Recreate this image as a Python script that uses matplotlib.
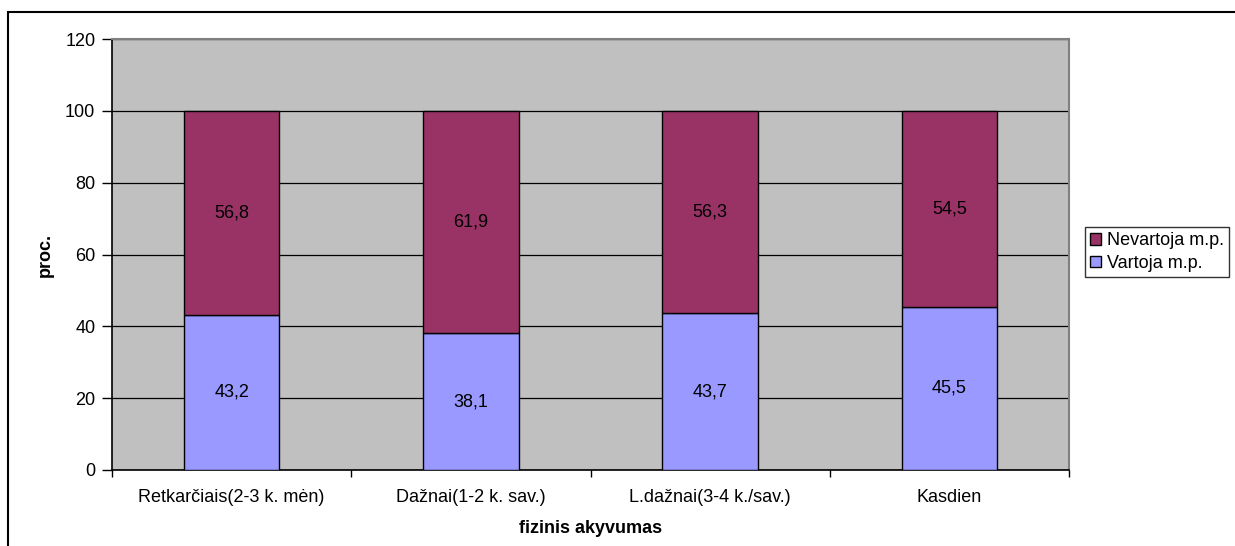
import matplotlib
matplotlib.use("Agg")
import matplotlib.pyplot as plt
from matplotlib.patches import Rectangle, Patch
import numpy as np

plt.rcParams['font.family'] = ['Liberation Sans', 'DejaVu Sans']

categories = ["Retkarčiais(2-3 k. mėn)", "Dažnai(1-2 k. sav.)",
              "L.dažnai(3-4 k./sav.)", "Kasdien"]
vartoja = [43.2, 38.1, 43.7, 45.5]
nevartoja = [56.8, 61.9, 56.3, 54.5]
series_names = ["Nevartoja m.p.", "Vartoja m.p."]
y_ticks = [0, 20, 40, 60, 80, 100, 120]

W, H = 1235, 546
FS = 13
fig = plt.figure(figsize=(W / 100, H / 100), dpi=100)

# plot area in pixels
left, right, top, bottom = 112, 1069, 39, 470
ax = fig.add_axes([left / W, 1 - bottom / H, (right - left) / W, (bottom - top) / H])
ax.set_facecolor("#C0C0C0")

x = np.arange(len(categories))
width = 0.4
c_v = "#9999FF"
c_n = "#993366"

ax.bar(x, vartoja, width, color=c_v, edgecolor="black", linewidth=1, zorder=3)
ax.bar(x, nevartoja, width, bottom=vartoja, color=c_n, edgecolor="black",
       linewidth=1, zorder=3)

for xi, v, n in zip(x, vartoja, nevartoja):
    ax.text(xi, v / 2, f"{v:.1f}".replace(".", ","), ha="center", va="center",
            fontsize=FS, zorder=4)
    ax.text(xi, v + n / 2, f"{n:.1f}".replace(".", ","), ha="center", va="center",
            fontsize=FS, zorder=4)

ax.set_xlim(-0.5, len(categories) - 0.5)
ax.set_ylim(0, 120)
ax.set_yticks(y_ticks)
ax.yaxis.grid(True, color="black", linewidth=0.9, zorder=1)
ax.set_axisbelow(True)

ax.set_xticks(x)
ax.set_xticklabels(categories, fontsize=FS)
ax.tick_params(axis="x", length=0, pad=14)
ax.set_xticks(np.arange(-0.5, len(categories), 1.0), minor=True)
ax.tick_params(axis="x", which="minor", length=5, width=1, direction="out")
ax.tick_params(axis="y", length=7, width=1, direction="out", labelsize=FS, pad=5)

for s in ["left", "bottom"]:
    ax.spines[s].set_color("black")
    ax.spines[s].set_linewidth(1.2)
for s in ["top", "right"]:
    ax.spines[s].set_color("#808080")
    ax.spines[s].set_linewidth(1.5)

ax.set_ylabel("proc.", fontsize=FS, fontweight="bold", labelpad=8)
ax.set_xlabel("fizinis akyvumas", fontsize=FS, fontweight="bold", labelpad=10)

handles = [Patch(facecolor=c_n, edgecolor="black"),
           Patch(facecolor=c_v, edgecolor="black")]
leg = fig.legend(handles, series_names, loc="upper left",
                 bbox_to_anchor=(1085 / W, 1 - 227 / H), fontsize=FS,
                 frameon=True, fancybox=False, edgecolor="black",
                 handlelength=0.6, handleheight=0.6, handletextpad=0.3,
                 borderpad=0.3, labelspacing=0.3, borderaxespad=0)
leg.get_frame().set_linewidth(1)

# outer chart border
fig.patches.append(Rectangle((8 / W, -0.1), 1.2, 1 - 12 / H + 0.1,
                             transform=fig.transFigure, fill=False,
                             edgecolor="black", linewidth=1.5))

fig.savefig("out.png", dpi=100)
